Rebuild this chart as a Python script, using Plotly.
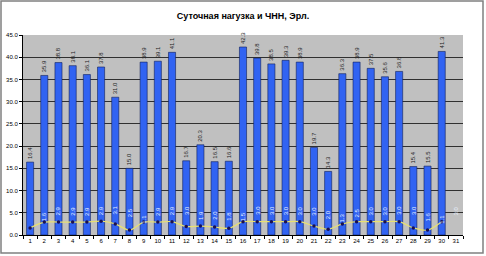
import plotly.graph_objects as go

days = [str(d) for d in range(1, 32)]
daily_load = [16.4, 35.9, 38.8, 38.1, 36.1, 37.8, 31.0, 15.0, 38.9, 39.1,
              41.1, 16.7, 20.3, 16.5, 16.6, 42.3, 39.8, 38.5, 39.3, 38.9,
              19.7, 14.3, 36.3, 38.9, 37.5, 35.6, 36.8, 15.4, 15.5, 41.3, None]
busy_hour = [1.6, 2.9, 2.9, 2.9, 2.9, 3.1, 2.5, 1.1, 2.9, 2.9,
             3.0, 1.9, 2.0, 1.8, 1.5, 3.0, 3.0, 3.0, 3.0, 3.0,
             2.0, 1.3, 2.5, 3.0, 3.0, 3.0, 3.0, 1.6, 1.1, 3.0, None]
y_ticks = [0, 5, 10, 15, 20, 25, 30, 35, 40, 45]

FONT = "Liberation Sans, Arial, sans-serif"

fig = go.Figure()
fig.add_trace(go.Bar(
    x=days, y=daily_load, width=0.5,
    marker=dict(color="#3163f2", line=dict(color="#10205a", width=0.6)),
    text=[f"{v:.1f}" if v is not None else "" for v in daily_load],
    textposition="outside", textangle=-90, constraintext="none",
    cliponaxis=False,
    textfont=dict(family=FONT, size=6, color="#222222"),
    showlegend=False,
))
fig.add_trace(go.Scatter(
    x=days, y=busy_hour, mode="lines+markers",
    line=dict(color="#e8e070", width=1.2, shape="spline", smoothing=0.8),
    marker=dict(color="#1a1050", size=3.5, symbol="circle"),
    showlegend=False,
))

for d, v in zip(days, busy_hour):
    if v is None:
        continue
    fig.add_annotation(x=d, y=v, text=f"{v:.1f}", textangle=-90,
                       showarrow=False, yshift=11,
                       font=dict(family=FONT, size=6, color="#e8f0ff"))

W, H = 486, 256
L, R, T, B = 23, 23, 35, 21
pw, ph = W - L - R, H - T - B
fig.add_shape(type="rect", xref="paper", yref="paper",
              x0=-(L - 1) / pw, x1=1 + (R - 3) / pw,
              y0=-(B - 3) / ph, y1=1 + (T - 1) / ph,
              line=dict(color="#808080", width=1.5), layer="above")

fig.update_layout(
    width=W, height=H,
    margin=dict(l=L, r=R, t=T, b=B),
    paper_bgcolor="white", plot_bgcolor="#c0c0c0",
    title=dict(text="<b>Суточная нагузка и ЧНН, Эрл.</b>", x=0.5, xanchor="center",
               y=1 - 16 / H, yanchor="middle",
               font=dict(family=FONT, size=9, color="#000000")),
    bargap=0.5,
    font=dict(family=FONT, size=6, color="#000000"),
)
fig.update_xaxes(type="category", showline=True, linecolor="#000000", linewidth=1,
                 ticks="outside", tickson="boundaries", ticklen=3, tickcolor="#000000",
                 showgrid=False, tickfont=dict(size=6), tickangle=0, automargin=False,
                 range=[-0.5, 30.5])
fig.update_yaxes(range=[0, 45], tickvals=y_ticks,
                 ticktext=[f"{v:.1f}" for v in y_ticks],
                 showline=True, linecolor="#000000", linewidth=1,
                 ticks="outside", ticklen=3, tickcolor="#000000",
                 showgrid=True, gridcolor="#303030", gridwidth=1,
                 zeroline=False, tickfont=dict(size=6), automargin=False)

fig.write_html("out.html", config={"displayModeBar": False},
               post_script="document.body.style.margin='0';document.body.style.overflow='hidden';")
